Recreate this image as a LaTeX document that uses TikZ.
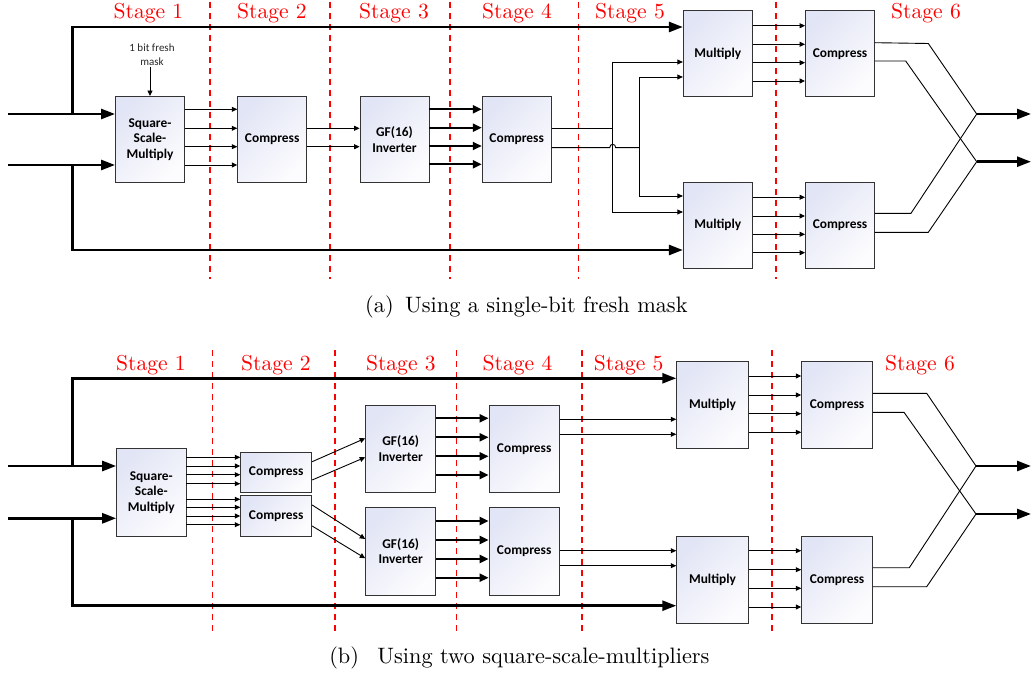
\documentclass[tikz,border=0pt]{standalone}
\usepackage{fontspec}
\newfontfamily\calib{Carlito}
\newfontfamily\lmten[Extension=.otf]{lmroman10-regular}
\usetikzlibrary{arrows.meta}
\definecolor{boxtop}{RGB}{226,229,245}
\definecolor{boxbot}{RGB}{252,252,254}
\tikzset{
 blk/.style={draw=black!80, line width=0.9pt, top color=boxtop, bottom color=boxbot, shading angle=45,
   inner sep=0pt, align=center, font=\calib\bfseries\fontsize{13.4}{15.5}\selectfont,
   minimum width=69pt, minimum height=86pt},
 tarr/.style={line width=0.9pt, -{Triangle[length=5.5pt,width=5pt]}},
 tline/.style={line width=0.9pt},
 karr/.style={line width=2.2pt, -{Triangle[length=9pt,width=8pt]}},
 busarr/.style={line width=2.6pt, -{Triangle[length=14pt,width=10pt]}},
 stageline/.style={red, dash pattern=on 6pt off 5pt, line width=1.3pt},
 stagelbl/.style={red, font=\lmten\fontsize{21.6}{24}\selectfont, anchor=base},
 captxt/.style={font=\lmten\fontsize{22.3}{26}\selectfont},
}
\begin{document}
\begin{tikzpicture}[x=1pt,y=-1pt]
\useasboundingbox (0,0) rectangle (1034,682);

% ================= (a) =================
\foreach \x in {210,330,450,578.7,776} \draw[stageline] (\x,2) -- (\x,279);
\foreach \x/\n in {148.5/1,272/2,394/3,517/4,630/5,926/6}
  \node[stagelbl] (sa\n) at (\x,18.3) {Stage \n};

\node[blk] (SSMa) at (150,139.5) {Square-\\Scale-\\Multiply};
\node[blk] (CA1) at (272.2,139.5) {Compress};
\node[blk] (GFa) at (394.5,139.5) {GF(16)\\Inverter};
\node[blk] (CA2) at (516.7,139.5) {Compress};
\node[blk] (MA1) at (717.8,53.9) {Multiply};
\node[blk] (MA2) at (717.8,225.2) {Multiply};
\node[blk] (CA3) at (840,53.9) {Compress};
\node[blk] (CA4) at (840,225.2) {Compress};

\node[font=\calib\fontsize{11}{14}\selectfont, align=center, text=black!85, inner sep=1pt] (mask) at (152,54.5) {1 bit fresh\\mask};
\draw[tarr] (SSMa.north |- mask.south) -- (SSMa.north);

% inputs and buses
\coordinate (inA1) at (8,114);
\coordinate (inA2) at (8,165);
\coordinate (jA1) at (72.7,114);
\coordinate (jA2) at (72.7,165);
\draw[busarr] (inA1) -- (SSMa.west |- inA1);
\draw[busarr] (inA2) -- (SSMa.west |- inA2);
\draw[busarr] (jA1) |- (MA1.west |- 0,27);
\draw[busarr] (jA2) |- (MA2.west |- 0,250);

\foreach \y in {109.3,128.3,146.7,165} \draw[tarr] (SSMa.east |- 0,\y) -- (CA1.west |- 0,\y);
\foreach \y in {128.3,146.7} \draw[tarr] (CA1.east |- 0,\y) -- (GFa.west |- 0,\y);
\foreach \y in {109.3,127.7,146,164.3} \draw[karr] (GFa.east |- 0,\y) -- (CA2.west |- 0,\y);

% fan-out to multipliers
\coordinate (va1) at (612.7,62);
\coordinate (va2) at (612.7,212);
\coordinate (vb1) at (639,77);
\coordinate (vb2) at (639,196);
\coordinate (vam) at (612.7,128.3);
\coordinate (vbm) at (639,147.7);
\draw[tline] (CA2.east |- vam) -- (vam);
\draw[tline] (CA2.east |- vbm) -- (609.7,147.7) .. controls (609.7,143.2) and (615.7,143.2) .. (615.7,147.7) -- (vbm);
\draw[tarr] (va2) -- (va1) -- (MA1.west |- va1);
\draw[tarr] (va1) -- (va2) -- (MA2.west |- va2);
\draw[tarr] (vb2) -- (vb1) -- (MA1.west |- vb1);
\draw[tarr] (vb1) -- (vb2) -- (MA2.west |- vb2);

\foreach \y in {25.7,44.3,62.7,81} \draw[tarr] (MA1.east |- 0,\y) -- (CA3.west |- 0,\y);
\foreach \y in {197.3,216,234.3,252.7} \draw[tarr] (MA2.east |- 0,\y) -- (CA4.west |- 0,\y);

% merge
\coordinate (J1a) at (976.7,114);
\coordinate (J2a) at (976.7,161.7);
\coordinate (oA1) at (1031,114);
\coordinate (oA2) at (1031,161.7);
\draw[tline] (CA3.east |- 0,42.7) -- (928.3,43.5) -- (J1a);
\draw[tline] (CA3.east |- 0,61) -- (905.7,61) -- (J2a);
\draw[tline] (CA4.east |- 0,213.3) -- (911,213.3) -- (J1a);
\draw[tline] (CA4.east |- 0,232.3) -- (928.3,232.3) -- (J2a);
\draw[busarr] (J1a) -- (oA1);
\draw[busarr] (J2a) -- (oA2);

\node[captxt, anchor=base west] (capa) at (361.7,312.7) {(a)\hspace{4pt} Using a single-bit fresh mask};

% ================= (b) =================
\foreach \x in {212.3,335,456.7,582,772} \draw[stageline] (\x,350) -- (\x,635);
\foreach \x/\n in {151/1,276/2,400.8/3,517.5/4,628.7/5,920/6}
  \node[stagelbl] (sb\n) at (\x,370) {Stage \n};

\node[blk, minimum width=69.3pt, minimum height=87.7pt] (SSMb) at (151.3,492.2) {Square-\\Scale-\\Multiply};
\node[blk, minimum width=71pt, minimum height=40pt] (CBa) at (276.2,472.3) {Compress};
\node[blk, minimum width=71pt, minimum height=40.7pt] (CBb) at (276.2,515.7) {Compress};
\node[blk, minimum width=70pt, minimum height=87.3pt] (GFb1) at (400.7,448.7) {GF(16)\\Inverter};
\node[blk, minimum width=70pt, minimum height=87.3pt] (GFb2) at (400.7,551.3) {GF(16)\\Inverter};
\node[blk, minimum width=70.3pt, minimum height=87.3pt] (CB1) at (524.2,448.7) {Compress};
\node[blk, minimum width=70.3pt, minimum height=87.3pt] (CB2) at (524.2,551.3) {Compress};
\node[blk, minimum width=71.6pt, minimum height=86.6pt] (MB1) at (712.5,405) {Multiply};
\node[blk, minimum width=71.6pt, minimum height=86.6pt] (MB2) at (712.5,579.7) {Multiply};
\node[blk, minimum width=70.6pt, minimum height=86.6pt] (CB5) at (837,405) {Compress};
\node[blk, minimum width=70.6pt, minimum height=86.6pt] (CB6) at (837,579.7) {Compress};

\coordinate (inB1) at (8,466);
\coordinate (inB2) at (8,518.3);
\coordinate (jB1) at (72.7,466);
\coordinate (jB2) at (72.7,518.3);
\draw[busarr] (inB1) -- (SSMb.west |- inB1);
\draw[busarr] (inB2) -- (SSMb.west |- inB2);
\draw[busarr] (jB1) |- (MB1.west |- 0,378.3);
\draw[busarr] (jB2) |- (MB2.west |- 0,605.7);

\foreach \y in {457.3,466,474.7,483.7} \draw[tarr] (SSMb.east |- 0,\y) -- (CBa.west |- 0,\y);
\foreach \y in {499.3,507.3,516,524.7} \draw[tarr] (SSMb.east |- 0,\y) -- (CBb.west |- 0,\y);

\draw[tarr] (CBa.east |- 0,461.7) -- (GFb1.west |- 0,438.3);
\draw[tarr] (CBa.east |- 0,480) -- (GFb1.west |- 0,457.3);
\draw[tarr] (CBb.east |- 0,505) -- (GFb2.west |- 0,539);
\draw[tarr] (CBb.east |- 0,526) -- (GFb2.west |- 0,558.3);

\foreach \y in {418.3,437.3,456.3,475} \draw[karr] (GFb1.east |- 0,\y) -- (CB1.west |- 0,\y);
\foreach \y in {521,540,559,577.7} \draw[karr] (GFb2.east |- 0,\y) -- (CB2.west |- 0,\y);

\foreach \y in {419.3,434.3} \draw[tarr] (CB1.east |- 0,\y) -- (MB1.west |- 0,\y);
\foreach \y in {550.7,565.7} \draw[tarr] (CB2.east |- 0,\y) -- (MB2.west |- 0,\y);

\foreach \y in {376,395,413.7,432.3} \draw[tarr] (MB1.east |- 0,\y) -- (CB5.west |- 0,\y);
\foreach \y in {550.7,569.7,588.3,607} \draw[tarr] (MB2.east |- 0,\y) -- (CB6.west |- 0,\y);

\coordinate (J1b) at (976,466);
\coordinate (J2b) at (976,514);
\coordinate (oB1) at (1031,466);
\coordinate (oB2) at (1031,514);
\draw[tline] (CB5.east |- 0,393.3) -- (926.7,393.3) -- (J1b);
\draw[tline] (CB5.east |- 0,412.3) -- (904,412.3) -- (J2b);
\draw[tline] (CB6.east |- 0,567.7) -- (909.3,567.7) -- (J1b);
\draw[tline] (CB6.east |- 0,586.7) -- (926.7,586.7) -- (J2b);
\draw[busarr] (J1b) -- (oB1);
\draw[busarr] (J2b) -- (oB2);

\node[captxt, anchor=base east] (capb) at (713,663.3) {(b)\hspace{11pt} Using two square-scale-multipliers};
\end{tikzpicture}
\end{document}
